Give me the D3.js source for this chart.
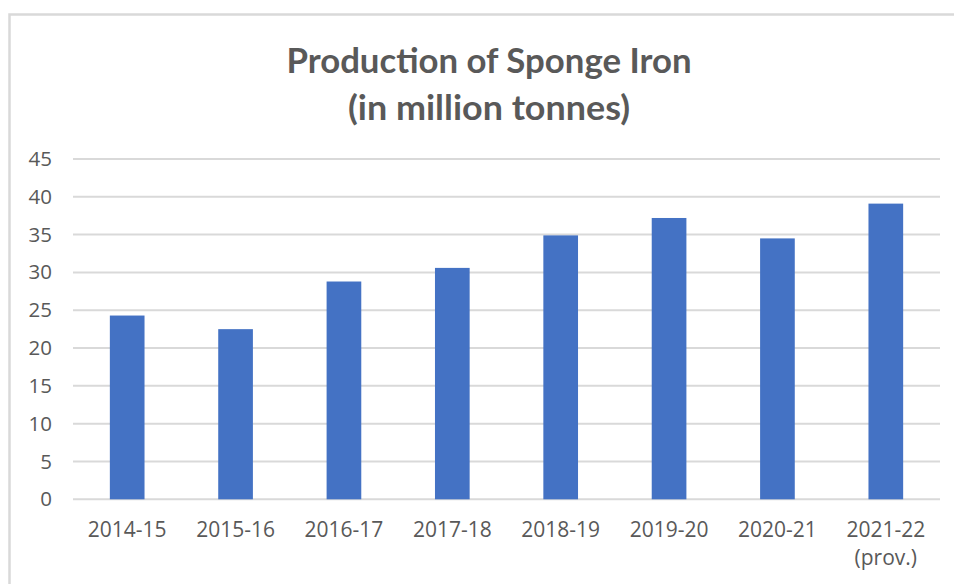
<!DOCTYPE html>
<html>
<head>
<meta charset="utf-8">
<script src="https://cdn.jsdelivr.net/npm/d3@7"></script>
<style>
    body { margin: 0; background: #fff; }
    svg { display: block; }
</style>
</head>
<body>
<svg id="chart"></svg>
<script>
const width = 954;
const height = 584;

const titleLines = ["Production of Sponge Iron", "(in million tonnes)"];
const years = ["2014-15", "2015-16", "2016-17", "2017-18", "2018-19", "2019-20", "2020-21", "2021-22"];
const yearNotes = ["", "", "", "", "", "", "", "(prov.)"];
const production = [24.3, 22.5, 28.8, 30.6, 34.9, 37.2, 34.5, 39.1];
const yTicks = [0, 5, 10, 15, 20, 25, 30, 35, 40, 45];

const textColor = "#595959";
const gridColor = "#d9d9d9";
const barColor = "#4472c4";

const svg = d3.select("#chart")
    .attr("width", width)
    .attr("height", height);

// chart frame (right and bottom edges run off the picture)
svg.append("rect")
    .attr("x", 9.5)
    .attr("y", 14.5)
    .attr("width", width + 20)
    .attr("height", height + 20)
    .attr("fill", "#fff")
    .attr("stroke", gridColor)
    .attr("stroke-width", 2.5);

// title
const titleWidths = [405, 282];
const titleBase = [73, 120];
titleLines.forEach((t, i) => {
    svg.append("text")
        .attr("x", 489)
        .attr("y", titleBase[i])
        .attr("text-anchor", "middle")
        .attr("textLength", titleWidths[i])
        .attr("lengthAdjust", "spacingAndGlyphs")
        .style("font-family", "Lato, 'Open Sans', sans-serif")
        .style("font-weight", "bold")
        .style("font-size", "34px")
        .style("fill", textColor)
        .text(t);
});

const x = d3.scaleBand()
    .domain(years)
    .range([73, 940]);

const y = d3.scaleLinear()
    .domain([0, 45])
    .range([499.3, 159]);

// gridlines
svg.append("g")
    .selectAll("line")
    .data(yTicks)
    .join("line")
    .attr("x1", 73)
    .attr("x2", 940)
    .attr("y1", d => y(d))
    .attr("y2", d => y(d))
    .attr("stroke", gridColor)
    .attr("stroke-width", 2);

// y axis labels
const yAxis = svg.append("g")
    .attr("transform", "translate(52,0)")
    .call(d3.axisLeft(y).tickValues(yTicks).tickSize(0).tickPadding(0));
yAxis.select(".domain").remove();
yAxis.selectAll("text")
    .style("font-family", "'Open Sans', sans-serif")
    .style("font-size", "20.5px")
    .style("fill", textColor);

// bars
const barW = x.bandwidth() * 0.32;
svg.append("g")
    .selectAll("rect")
    .data(production)
    .join("rect")
    .attr("x", (d, i) => x(years[i]) + x.bandwidth() / 2 - barW / 2)
    .attr("y", d => y(d))
    .attr("width", barW)
    .attr("height", d => y(0) - y(d))
    .attr("fill", barColor);

// x axis labels
const xAxis = svg.append("g")
    .attr("transform", `translate(0,${y(0)})`)
    .call(d3.axisBottom(x).tickSize(0).tickPadding(0));
xAxis.select(".domain").remove();
xAxis.selectAll("text").remove();
xAxis.selectAll(".tick").each(function(d, i) {
    const t = d3.select(this).append("text")
        .attr("text-anchor", "middle")
        .style("font-family", "'Open Sans', sans-serif")
        .style("font-size", "21px")
        .style("fill", textColor);
    t.append("tspan").attr("x", 0).attr("y", 38).text(d);
    if (yearNotes[i]) {
        t.append("tspan").attr("x", 0).attr("y", 66).text(yearNotes[i]);
    }
});
</script>
</body>
</html>
